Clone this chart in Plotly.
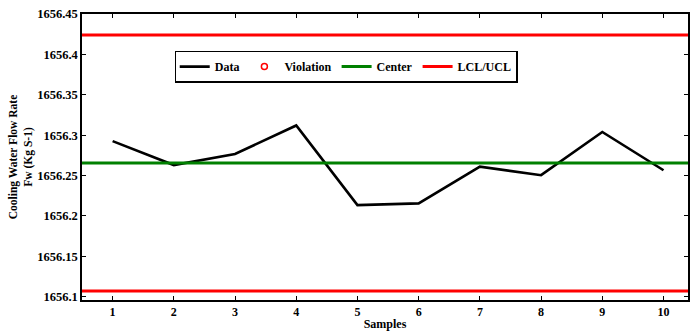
import plotly.graph_objects as go

samples = [1, 2, 3, 4, 5, 6, 7, 8, 9, 10]
flow_rate = [1656.2926, 1656.263, 1656.2767, 1656.312, 1656.2135,
             1656.2156, 1656.261, 1656.2505, 1656.304, 1656.2566]
center_value = 1656.2655
lcl_value = 1656.107
ucl_value = 1656.424
x_span = [0.5, 10.4]
y_ticks = [1656.1, 1656.15, 1656.2, 1656.25, 1656.3, 1656.35, 1656.4, 1656.45]
y_tick_labels = ["1656.1", "1656.15", "1656.2", "1656.25", "1656.3", "1656.35", "1656.4", "1656.45"]

font_family = "Liberation Serif"

fig = go.Figure()
fig.add_trace(go.Scatter(x=samples, y=flow_rate, mode="lines", name="<b>Data</b>",
                         line=dict(color="black", width=2.6)))
fig.add_trace(go.Scatter(x=[None], y=[None], mode="markers", name="<b>Violation</b>",
                         marker=dict(symbol="circle-open", color="red", size=6, line=dict(width=1.5))))
fig.add_trace(go.Scatter(x=x_span, y=[center_value, center_value], mode="lines", name="<b>Center</b>",
                         line=dict(color="#008000", width=3)))
fig.add_trace(go.Scatter(x=x_span, y=[ucl_value, ucl_value], mode="lines", name="<b>LCL/UCL</b>",
                         line=dict(color="#ff0000", width=3), legendgroup="lim"))
fig.add_trace(go.Scatter(x=x_span, y=[lcl_value, lcl_value], mode="lines", showlegend=False,
                         line=dict(color="#ff0000", width=3), legendgroup="lim"))

fig.update_layout(
    width=691, height=331,
    margin=dict(l=82, r=1, t=14, b=30),
    plot_bgcolor="white", paper_bgcolor="white",
    font=dict(family=font_family, size=12, color="black"),
    showlegend=True,
    legend=dict(orientation="h", x=0.436, y=0.872, xanchor="center", yanchor="top",
                bordercolor="black", borderwidth=1.5, bgcolor="white",
                font=dict(family=font_family, size=12, color="black"),
                itemwidth=30, tracegroupgap=0),
)
fig.update_xaxes(
    range=x_span, tickvals=samples, ticktext=[f"<b>{s}</b>" for s in samples],
    showline=True, linecolor="black", linewidth=1.5, mirror="ticks",
    ticks="inside", ticklen=4, tickcolor="black", showgrid=False, zeroline=False,
    tickfont=dict(family=font_family, size=12),
    title=dict(text="<b>Samples</b>", font=dict(family=font_family, size=12), standoff=2),
)
fig.update_yaxes(
    range=[1656.096, 1656.45], tickvals=y_ticks, ticktext=[f"<b>{t}</b>" for t in y_tick_labels],
    showline=True, linecolor="black", linewidth=1.5, mirror="ticks",
    ticks="inside", ticklen=4, tickcolor="black", showgrid=False, zeroline=False,
    tickfont=dict(family=font_family, size=12.5),
    title=dict(text="<b>Cooling Water Flow Rate<br>Fw (Kg S-1)</b>",
               font=dict(family=font_family, size=11.5), standoff=2),
)

fig.write_html("out.html", config={"displayModeBar": False},
               post_script="document.body.style.margin='0';document.body.style.overflow='hidden';")
